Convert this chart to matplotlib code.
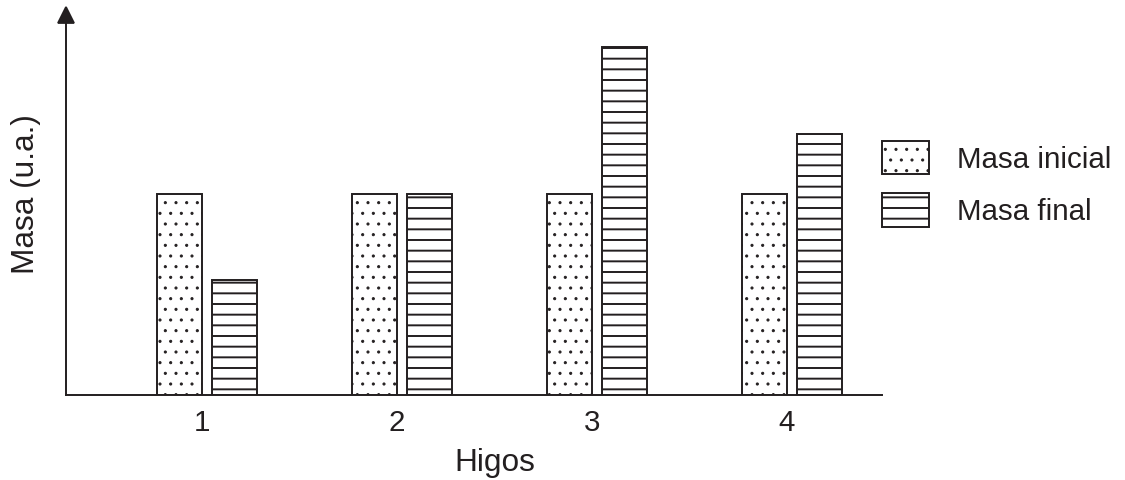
import numpy as np
import matplotlib
matplotlib.use('Agg')
import matplotlib.pyplot as plt

plt.rcParams['font.family'] = ['Liberation Sans', 'DejaVu Sans']

higos = ['1', '2', '3', '4']
masa_inicial = [10.0, 10.0, 10.0, 10.0]
masa_final = [5.7, 10.0, 17.3, 13.0]

DPI = 128
fig = plt.figure(figsize=(1125 / DPI, 480 / DPI), dpi=DPI)
ax = fig.add_axes([66 / 1125, 85 / 480, 816 / 1125, 380 / 480])

x = np.arange(1, len(higos) + 1)
w = 0.231
off = 0.141
ink = '#231f20'

# thin hatch for the dots, thicker for the stripes
with plt.rc_context({'hatch.linewidth': 0.55}):
    ax.bar(x - off, masa_inicial, w, color='white', edgecolor=ink,
           linewidth=1.1, hatch='..', label='Masa inicial')
with plt.rc_context({'hatch.linewidth': 1.1}):
    ax.bar(x + off, masa_final, w, color='white', edgecolor=ink,
           linewidth=1.1, hatch='--', label='Masa final')

ax.set_xlim(0.277, 4.462)
ax.set_ylim(0, 18.9)

ax.spines['top'].set_visible(False)
ax.spines['right'].set_visible(False)
for s in ['left', 'bottom']:
    ax.spines[s].set_linewidth(1.1)
    ax.spines[s].set_color(ink)

# arrow on top of y axis
ax.plot(0, 1, marker='^', markersize=9, color=ink, transform=ax.transAxes,
        clip_on=False)

ax.set_xticks(x - off + w / 2)
ax.set_xticklabels(higos, fontsize=16.6, color=ink)
ax.set_yticks([])
ax.tick_params(axis='x', length=0, pad=8)

ax.set_xlabel('Higos', fontsize=17.8, color=ink)
ax.xaxis.set_label_coords(0.526, -0.14)
ax.set_ylabel('Masa (u.a.)', fontsize=17.8, color=ink)
ax.yaxis.set_label_coords(-0.031, 0.53)

leg = ax.legend(loc='upper left', bbox_to_anchor=(882 / 1125, 1 - 141 / 480),
                bbox_transform=fig.transFigure, frameon=False, fontsize=16.6,
                handlelength=1.6, handleheight=1.36, handletextpad=0.95,
                labelspacing=0.64, borderpad=0, borderaxespad=0)
for t in leg.get_texts():
    t.set_color(ink)
hs = leg.legend_handles
if hasattr(hs[0], 'set_hatch_linewidth'):
    hs[0].set_hatch_linewidth(0.55)
    hs[1].set_hatch_linewidth(1.1)

fig.savefig('out.png', dpi=DPI)
